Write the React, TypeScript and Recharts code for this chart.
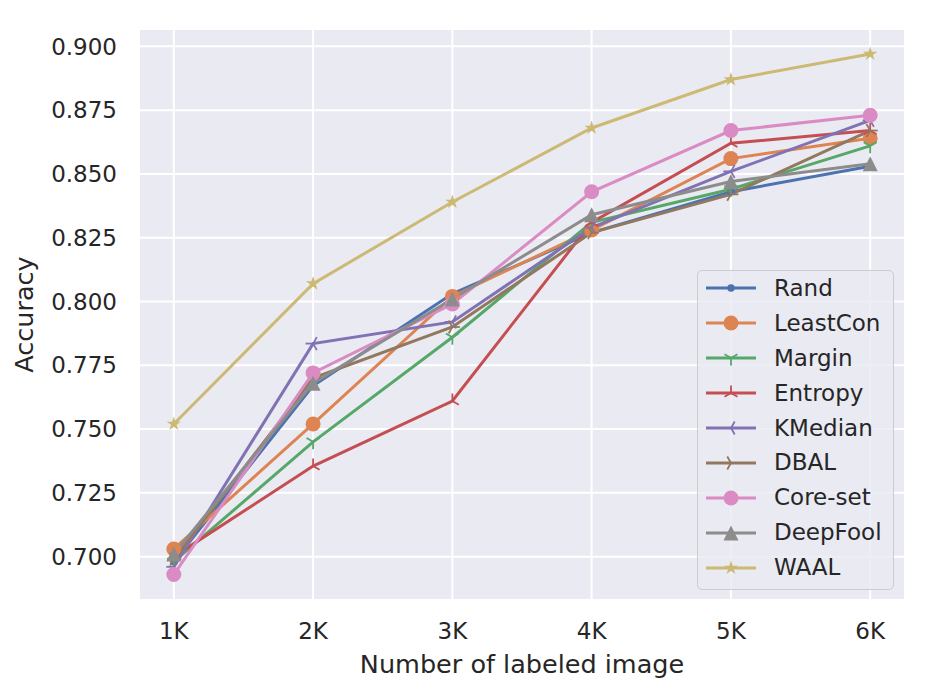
import React from 'react';
import { LineChart, Line, XAxis, YAxis, CartesianGrid, Legend, Label } from 'recharts';

// sample sizes (thousands) and their tick labels
const xValues = [1, 2, 3, 4, 5, 6];
const xTickLabels = ['1K', '2K', '3K', '4K', '5K', '6K'];
const yTicks = [0.7, 0.725, 0.75, 0.775, 0.8, 0.825, 0.85, 0.875, 0.9];

const rand = [0.698, 0.767, 0.803, 0.827, 0.843, 0.853];
const leastCon = [0.703, 0.752, 0.802, 0.828, 0.856, 0.864];
const margin = [0.698, 0.745, 0.786, 0.831, 0.844, 0.861];
const entropy = [0.7, 0.7355, 0.761, 0.831, 0.862, 0.867];
const kMedian = [0.696, 0.7835, 0.792, 0.829, 0.851, 0.871];
const dbal = [0.699, 0.77, 0.79, 0.827, 0.842, 0.867];
const coreSet = [0.693, 0.772, 0.799, 0.843, 0.867, 0.873];
const deepFool = [0.701, 0.768, 0.801, 0.834, 0.847, 0.854];
const waal = [0.752, 0.807, 0.839, 0.868, 0.887, 0.897];

const series = [
  { key: 'Rand', values: rand, color: '#4c72b0', shape: 'point' },
  { key: 'LeastCon', values: leastCon, color: '#dd8452', shape: 'circle' },
  { key: 'Margin', values: margin, color: '#55a868', shape: 'triDown' },
  { key: 'Entropy', values: entropy, color: '#c44e52', shape: 'triUp' },
  { key: 'KMedian', values: kMedian, color: '#8172b3', shape: 'triLeft' },
  { key: 'DBAL', values: dbal, color: '#937860', shape: 'triRight' },
  { key: 'Core-set', values: coreSet, color: '#da8bc3', shape: 'circle' },
  { key: 'DeepFool', values: deepFool, color: '#8c8c8c', shape: 'triangle' },
  { key: 'WAAL', values: waal, color: '#ccb974', shape: 'star' },
];

const data = xValues.map((x, i) => {
  const row: any = { x };
  series.forEach(s => { row[s.key] = s.values[i]; });
  return row;
});

const FONT = 'DejaVu Sans, sans-serif';
const TEXT = '#262626';

const Marker = ({ shape, cx, cy, color }: any) => {
  const r = 7.5;
  const tri = (angles: number[]) => (
    <g stroke={color} strokeWidth={1.8}>
      {angles.map(a => (
        <line key={a} x1={cx} y1={cy}
          x2={cx + r * Math.cos((a * Math.PI) / 180)}
          y2={cy - r * Math.sin((a * Math.PI) / 180)} />
      ))}
    </g>
  );
  switch (shape) {
    case 'point':
      return <circle cx={cx} cy={cy} r={3.75} fill={color} />;
    case 'circle':
      return <circle cx={cx} cy={cy} r={r} fill={color} />;
    case 'triDown':
      return tri([-90, 30, 150]);
    case 'triUp':
      return tri([90, -30, -150]);
    case 'triLeft':
      return tri([180, 60, -60]);
    case 'triRight':
      return tri([0, 120, -120]);
    case 'triangle':
      return <polygon points={`${cx},${cy - r} ${cx - r},${cy + r} ${cx + r},${cy + r}`} fill={color} />;
    case 'star': {
      const pts: string[] = [];
      for (let k = 0; k < 10; k++) {
        const rad = k % 2 === 0 ? r : r * 0.382;
        const a = Math.PI / 2 + (k * Math.PI) / 5;
        pts.push(`${cx + rad * Math.cos(a)},${cy - rad * Math.sin(a)}`);
      }
      return <polygon points={pts.join(' ')} fill={color} />;
    }
    default:
      return null;
  }
};

const LegendBox = () => (
  <div style={{
    boxSizing: 'border-box', width: 197, height: 320, padding: '0 0 0 8px',
    background: 'rgba(234,234,242,0.8)', border: '1.5px solid #cccccc', borderRadius: 5,
    fontFamily: FONT, fontSize: 23, color: TEXT,
  }}>
    {series.map(s => (
      <div key={s.key} style={{ display: 'flex', alignItems: 'center', height: 34.9 }}>
        <svg width={50} height={20} style={{ flex: 'none' }}>
          <line x1={0} y1={10} x2={50} y2={10} stroke={s.color} strokeWidth={3} />
          <Marker shape={s.shape} cx={25} cy={10} color={s.color} />
        </svg>
        <span style={{ marginLeft: 18, lineHeight: 1 }}>{s.key}</span>
      </div>
    ))}
  </div>
);

export default function App() {
  return (
    <div style={{ position: 'absolute', left: 0, top: 0, width: 935, height: 694, background: '#fff' }}>
      <LineChart width={935} height={694} data={data} margin={{ top: 29, right: 30, bottom: 0, left: 0 }}>
        <CartesianGrid fill="#eaeaf2" stroke="#ffffff" strokeWidth={2} />
        <XAxis
          dataKey="x" type="number" domain={[0.75, 6.25]} ticks={xValues} allowDataOverflow
          tickFormatter={(v: number) => xTickLabels[xValues.indexOf(v)]}
          height={94} axisLine={false} tickLine={false} tickSize={0} tickMargin={23}
          tick={{ fill: TEXT, fontSize: 23, fontFamily: FONT }}
        >
          <Label value="Number of labeled image" position="insideBottom" offset={21}
            style={{ fill: TEXT, fontSize: 25.5, fontFamily: FONT }} />
        </XAxis>
        <YAxis
          type="number" domain={[0.683, 0.9068]} ticks={yTicks} allowDataOverflow
          tickFormatter={(v: number) => v.toFixed(3)}
          width={139} axisLine={false} tickLine={false} tickSize={0} tickMargin={22}
          tick={{ fill: TEXT, fontSize: 23, fontFamily: FONT }}
        >
          <Label value="Accuracy" angle={-90} position="insideLeft" offset={24}
            style={{ fill: TEXT, fontSize: 25.5, fontFamily: FONT, textAnchor: 'middle' }} />
        </YAxis>
        <Legend layout="vertical" align="center" verticalAlign="middle"
          wrapperStyle={{ left: 697, top: 270, width: 197, height: 320 }}
          content={() => <LegendBox />} />
        {series.map(s => (
          <Line
            key={s.key} dataKey={s.key} stroke={s.color} strokeWidth={3} isAnimationActive={false}
            dot={(p: any) => <Marker key={`${s.key}-${p.index}`} shape={s.shape} cx={p.cx} cy={p.cy} color={s.color} />}
            activeDot={false}
          />
        ))}
      </LineChart>
    </div>
  );
}
